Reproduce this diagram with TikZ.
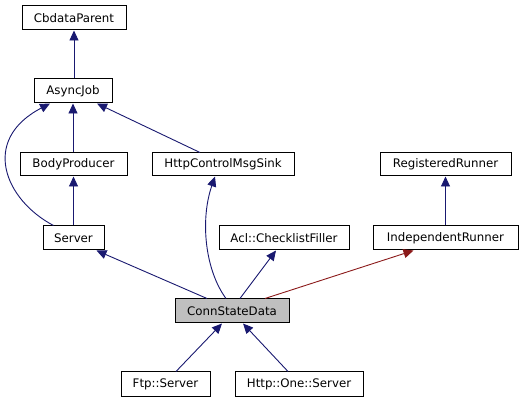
\documentclass[tikz,border=0pt]{standalone}
\usepackage{fontspec}
\setmainfont{DejaVu Sans}
\usetikzlibrary{arrows.meta}
\definecolor{edgeblue}{HTML}{191970}
\definecolor{edgered}{HTML}{8B1A1A}
\definecolor{hilite}{HTML}{BFBFBF}
\tikzset{
  cls/.style={draw=black, line width=1pt, fill=white, inner sep=0pt, font=\fontsize{11.8}{13}\selectfont},
  edge/.style={draw=edgeblue, line width=0.9pt, {Triangle[length=10pt,width=9pt]}-},
  privedge/.style={draw=edgered, line width=0.9pt, {Triangle[length=10pt,width=9pt,fill=edgered]}-},
}
\newcommand{\clsnode}[6]{\node[cls,#6,minimum width=#4pt-#2pt,minimum height=#5pt-#3pt] (#1) at ({(#2+#4)/2},{(#3+#5)/2})}
\begin{document}
\begin{tikzpicture}[x=1pt,y=-1pt]
\useasboundingbox (0,0) rectangle (523,403);
\clsnode{CbdataParent}{22}{6}{126}{30}{}{CbdataParent};
\clsnode{AsyncJob}{34}{79}{112}{103}{}{AsyncJob};
\clsnode{BodyProducer}{20}{153}{127}{176}{}{BodyProducer};
\clsnode{HttpCMS}{152}{153}{294}{176}{}{HttpControlMsgSink};
\clsnode{RegisteredRunner}{380}{153}{511}{176}{}{RegisteredRunner};
\clsnode{Server}{43}{226}{104}{250}{}{Server};
\clsnode{Acl}{219}{226}{349}{250}{}{Acl::ChecklistFiller};
\clsnode{IndependentRunner}{373}{226}{518}{250}{}{IndependentRunner};
\clsnode{ConnStateData}{175}{299}{289}{323}{fill=hilite}{ConnStateData};
\clsnode{Ftp}{121}{372}{210}{397}{}{Ftp::Server};
\clsnode{HttpOne}{235}{372}{363}{397}{}{Http::One::Server};
% edges
\draw[edge] (CbdataParent.south) -- (CbdataParent.south |- AsyncJob.north);
\draw[edge] (AsyncJob.south) -- (AsyncJob.south |- BodyProducer.north);
\draw[edge] ([xshift=24pt]AsyncJob.south) -- ([xshift=-23pt]HttpCMS.north);
\draw[edge] ([xshift=-23pt]AsyncJob.south) .. controls (-20,140) and (5,200) .. ([xshift=-20pt]Server.north);
\draw[edge] (BodyProducer.south) -- (BodyProducer.south |- Server.north);
\draw[edge] (RegisteredRunner.south) -- (RegisteredRunner.south |- IndependentRunner.north);
\draw[edge] ([xshift=-8pt]HttpCMS.south) .. controls (200,220) and (205,270) .. ([xshift=-6pt]ConnStateData.north);
\draw[edge] ([xshift=23pt]Server.south) -- ([xshift=-25pt]ConnStateData.north);
\draw[edge] ([xshift=-8pt]Acl.south) -- ([xshift=8pt]ConnStateData.north);
\draw[privedge] ([xshift=-32pt]IndependentRunner.south) -- ([xshift=33pt]ConnStateData.north);
\draw[edge] ([xshift=-10pt]ConnStateData.south) -- ([xshift=10.5pt]Ftp.north);
\draw[edge] ([xshift=11pt]ConnStateData.south) -- ([xshift=-11pt]HttpOne.north);
\end{tikzpicture}
\end{document}
